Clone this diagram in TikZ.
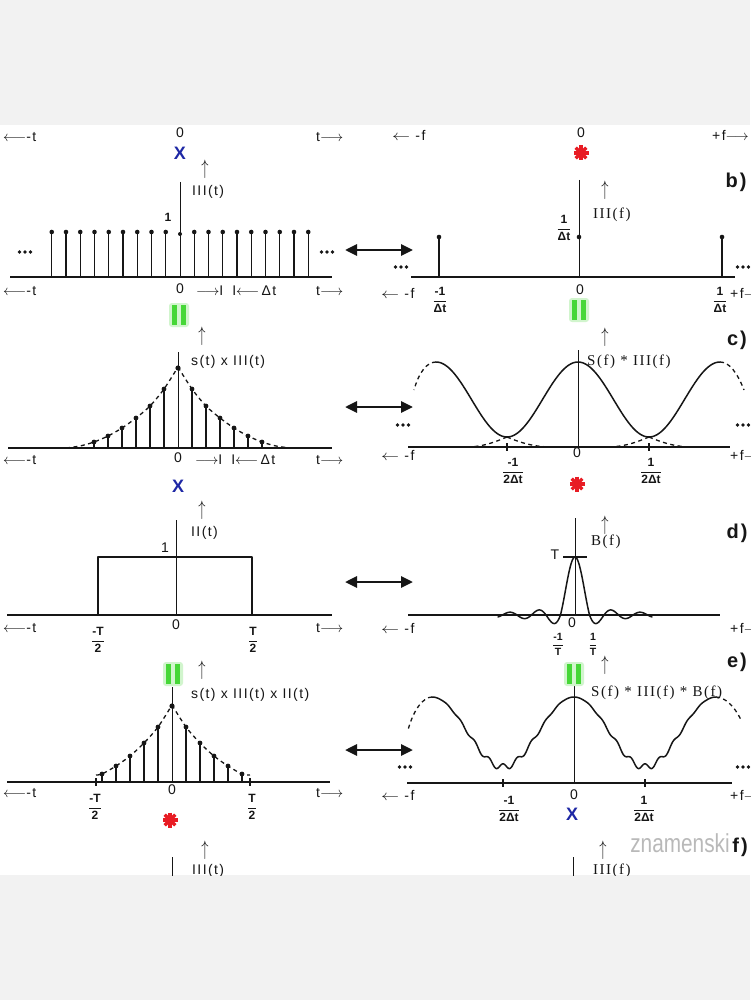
\documentclass[tikz,border=0pt]{standalone}
\usepackage{fontspec}
\setmainfont{Liberation Sans}
\newfontfamily\lab[LetterSpace=10]{Liberation Sans}
\newfontfamily\labser[LetterSpace=10]{Liberation Serif}
\usetikzlibrary{arrows.meta}
\definecolor{bggray}{RGB}{242,242,242}
\definecolor{ink}{RGB}{22,22,22}
\definecolor{xblue}{RGB}{30,40,165}
\definecolor{sred}{RGB}{232,28,36}
\definecolor{eqgreen}{RGB}{70,215,55}
\definecolor{wmark}{RGB}{185,185,185}
\newcommand\fr[2]{$\displaystyle\frac{\mbox{#1}}{\mbox{#2}}$}
\newcommand\upglyph{\scalebox{1}[1.45]{$\uparrow$}}
\newcommand\myla{$\longleftarrow$}
\newcommand\myra{$\longrightarrow$}
\newcommand\mysla{\scalebox{1.25}[1]{$\leftarrow$}}
\newcommand\mkstar[2]{\begin{scope}[shift={(#1,#2)}]\foreach \a in {0,45,90,135}{\draw[sred,line width=3.2pt] (\a:7.5pt) -- (\a+180:7.5pt);}\end{scope}}
\newcommand\mkeq[2]{\begin{scope}[shift={(#1,#2)}]\fill[eqgreen!25,rounded corners=3pt] (-10,-12) rectangle (10,12);\fill[eqgreen] (-7,-10) rectangle (-2,10);\fill[eqgreen] (2,-10) rectangle (7,10);\end{scope}}
\newcommand\mkdots[2]{\foreach \d in {-5.5,0,5.5}{\fill[ink] (#1+\d,#2) circle[radius=1.9pt];}}
\tikzset{
 axis/.style={draw=ink, line width=1.4pt},
 stem/.style={draw=ink, line width=1.1pt},
 vline/.style={draw=ink, line width=1pt},
 curve/.style={draw=ink, line width=1.5pt, line join=round, line cap=round},
 dcurve/.style={draw=ink, line width=1.3pt, dash pattern=on 4pt off 3.5pt},
 lbl/.style={inner sep=0pt, text=ink, font=\fontsize{14}{16}\selectfont\lab},
 slbl/.style={inner sep=0pt, text=ink, font=\fontsize{15}{17}\selectfont\labser},
 frc/.style={inner sep=0pt, text=ink, font=\fontsize{12}{14}\selectfont\bfseries},
 sfrc/.style={inner sep=0pt, text=ink, font=\fontsize{10.5}{12}\selectfont\bfseries},
 plbl/.style={inner sep=0pt, text=ink, font=\fontsize{20}{22}\selectfont\lab\bfseries},
 bx/.style={inner sep=0pt, text=xblue, font=\fontsize{18}{18}\selectfont\bfseries},
 upa/.style={inner sep=0pt, text=ink, font=\fontsize{14}{14}\selectfont},
 dbl/.style={draw=ink, line width=2.8pt, {Triangle[length=12pt,width=11pt]}-{Triangle[length=12pt,width=11pt]}},
}
\begin{document}
\begin{tikzpicture}[x=1pt,y=-1pt]
\useasboundingbox (0,0) rectangle (750,1000);
\fill[bggray] (0,0) rectangle (750,1000);
\fill[white] (0,125) rectangle (750,875);
\begin{scope}
\clip (0,125) rectangle (750,875);

% ---------- top labels ----------
\node[lbl,anchor=west] (tA1) at (3,137) {\myla-t};
\node[lbl] (tA0) at (180,133) {0};
\node[lbl,anchor=west] (tA2) at (316,137) {t\myra};
\node[lbl,anchor=west] (tB1) at (392,135) {\mysla\ -f};
\node[lbl] (tB0) at (581,133) {0};
\node[lbl,anchor=west] (tB2) at (712,135) {+f\myra};
\node[bx] (xA) at (180,153) {X};
\mkstar{581}{153}

% ---------- panel b left: III(t) ----------
\draw[axis] (10,277) -- (332,277);
\draw[vline] (180,182) -- (180,277);
\foreach \k in {-9,...,-1,1,2,...,9}{
  \draw[stem] (180+14.25*\k,277) -- (180+14.25*\k,232);
  \fill[ink] (180+14.25*\k,232) circle[radius=2.3pt];
}
\fill[ink] (180,234) circle[radius=2pt];
\node[upa] (aup) at (205,169) {\upglyph};
\node[lbl,anchor=west] (alab) at (192,192) {III(t)};
\node[frc] (a1) at (168,217) {1};
\mkdots{25}{252}
\mkdots{327}{252}
\node[lbl,anchor=west] (bA1) at (3,291) {\myla-t};
\node[lbl] (bA0) at (180,289) {0};
\node[lbl,anchor=west] (bAd) at (196,291) {\myra I\hspace{9pt}I\myla\,Δt};
\node[lbl,anchor=west] (bA2) at (316,291) {t\myra};

% ---------- panel b right: III(f) ----------
\draw[axis] (411,277) -- (735,277);
\draw[vline] (579,180) -- (579,277);
\draw[stem] (439,277) -- (439,237);
\draw[stem] (722,277) -- (722,237);
\fill[ink] (439,237) circle[radius=2.3pt];
\fill[ink] (722,237) circle[radius=2.3pt];
\fill[ink] (579,237) circle[radius=2.3pt];
\node[frc] (bf1) at (564,228) {\fr{1}{Δt}};
\node[upa] (bup) at (605,190) {\upglyph};
\node[slbl,anchor=west] (blab) at (593,215) {III(f)};
\node[plbl] (pb) at (736,182) {b)};
\mkdots{401}{267}
\mkdots{743}{267}
\node[lbl,anchor=west] (bB1) at (381,293) {\mysla\ -f};
\node[frc] (bB3) at (440,300) {\fr{-1}{Δt}};
\node[lbl] (bB0) at (580,290) {0};
\node[frc] (bB4) at (720,300) {\fr{1}{Δt}};
\node[lbl,anchor=west] (bB2) at (730,293) {+f\myra};
\coordinate (d1l) at (345,250);
\coordinate (d1r) at (413,250);
\draw[dbl] (d1l) -- (d1r);

% ---------- equals ----------
\mkeq{179}{315}
\mkeq{579}{310}

% ---------- panel c left: s(t) x III(t) ----------
\draw[axis] (8,448) -- (332,448);
\draw[vline] (178,352) -- (178,448);
\foreach \d/\h in {14/59,28/42,42/30,56/20,70/12,84/6}{
  \draw[stem] (178-\d,448) -- (178-\d,448-\h);
  \draw[stem] (178+\d,448) -- (178+\d,448-\h);
  \fill[ink] (178-\d,448-\h) circle[radius=2.4pt];
  \fill[ink] (178+\d,448-\h) circle[radius=2.4pt];
}
\fill[ink] (178,368) circle[radius=2.6pt];
\draw[dcurve] plot[smooth] coordinates {(66,448) (80,446) (94,442) (108,436) (122,428) (136,418) (150,406) (164,389) (178,367)};
\draw[dcurve] plot[smooth] coordinates {(178,367) (192,389) (206,406) (220,418) (234,428) (248,436) (262,442) (276,446) (290,448)};
\node[upa] (cup) at (202,336) {\upglyph};
\node[lbl,anchor=west] (clab) at (191,362) {s(t) x III(t)};
\node[lbl,anchor=west] (cA1) at (3,460) {\myla-t};
\node[lbl] (cA0) at (178,458) {0};
\node[lbl,anchor=west] (cAd) at (195,460) {\myra I\hspace{9pt}I\myla\,Δt};
\node[lbl,anchor=west] (cA2) at (316,460) {t\myra};
\node[bx] (xC) at (178,486) {X};

% ---------- panel c right: S(f)*III(f) ----------
\draw[axis] (408,447) -- (730,447);
\draw[vline] (578,350) -- (578,447);
\draw[curve] plot[domain=436:720,samples=150] (\x,{447-47.5-37.5*cos((\x-578)*2.53521)});
\draw[dcurve] (436,362) .. controls (427,362) and (419,372) .. (414,390);
\draw[dcurve] (720,362) .. controls (729,362) and (737,372) .. (744,390);
\draw[dcurve] (507,437) .. controls (495,442) and (485,446) .. (470,447);
\draw[dcurve] (507,437) .. controls (519,442) and (530,446) .. (548,447);
\draw[dcurve] (649,437) .. controls (637,442) and (627,446) .. (610,447);
\draw[dcurve] (649,437) .. controls (661,442) and (672,446) .. (688,447);
\draw[stem] (507,443) -- (507,451);
\draw[stem] (649,443) -- (649,451);
\node[upa] (cfup) at (605,337) {\upglyph};
\node[slbl,anchor=west] (cflab) at (587,362) {S(f) * III(f)};
\node[plbl] (pc) at (737,340) {c)};
\mkdots{403}{425}
\mkdots{743}{425}
\node[lbl,anchor=west] (cB1) at (381,455) {\mysla\ -f};
\node[lbl] (cB0) at (577,453) {0};
\node[frc] (cB3) at (513,471) {\fr{-1}{2Δt}};
\node[frc] (cB4) at (651,471) {\fr{1}{2Δt}};
\node[lbl,anchor=west] (cB2) at (730,455) {+f\myra};
\mkstar{577}{484}
\coordinate (d2l) at (345,407);
\coordinate (d2r) at (413,407);
\draw[dbl] (d2l) -- (d2r);

% ---------- panel d left: II(t) ----------
\draw[axis] (7,615) -- (332,615);
\draw[vline] (176,520) -- (176,615);
\draw[curve,line cap=butt] (98,615) -- (98,557) -- (252,557) -- (252,615);
\node[lbl] (d1) at (165,548) {1};
\node[upa] (dup) at (202,510) {\upglyph};
\node[lbl,anchor=west] (dlab) at (191,533) {II(t)};
\node[lbl,anchor=west] (dA1) at (3,628) {\myla-t};
\node[frc] (dA3) at (98,640) {\fr{-T}{2}};
\node[lbl] (dA0) at (176,625) {0};
\node[frc] (dA4) at (253,640) {\fr{T}{2}};
\node[lbl,anchor=west] (dA2) at (316,628) {t\myra};

% ---------- panel d right: B(f) ----------
\draw[axis] (408,615) -- (720,615);
\draw[vline] (575,518) -- (575,615);
\draw[curve] plot[domain=-77:77,samples=160] ({575+\x},{615-58*sin(12.4*\x)/(0.21642*\x)*(abs(\x)<14.5 ? 1 : 0.68)});
\draw[stem] (563,557) -- (587,557);
\node[lbl] (dT) at (555,555) {T};
\node[upa] (dfup) at (605,525) {\upglyph};
\node[slbl,anchor=west] (dflab) at (591,542) {B(f)};
\node[plbl] (pd) at (737,533) {d)};
\node[lbl,anchor=west] (dB1) at (381,628) {\mysla\ -f};
\node[lbl] (dB0) at (572,623) {0};
\node[sfrc] (dB3) at (558,644) {\fr{-1}{T}};
\node[sfrc] (dB4) at (593,644) {\fr{1}{T}};
\node[lbl,anchor=west] (dB2) at (730,628) {+f\myra};
\coordinate (d3l) at (345,582);
\coordinate (d3r) at (413,582);
\draw[dbl] (d3l) -- (d3r);

% ---------- panel e left ----------
\draw[axis] (7,782) -- (330,782);
\draw[vline] (172,687) -- (172,782);
\foreach \d/\h in {14/55,28/39,42/26,56/16,70/8}{
  \draw[stem] (172-\d,782) -- (172-\d,782-\h);
  \draw[stem] (172+\d,782) -- (172+\d,782-\h);
  \fill[ink] (172-\d,782-\h) circle[radius=2.4pt];
  \fill[ink] (172+\d,782-\h) circle[radius=2.4pt];
}
\fill[ink] (172,706) circle[radius=2.6pt];
\draw[dcurve] plot[smooth] coordinates {(96,775) (102,774) (116,766) (130,756) (144,743) (158,727) (172,705)};
\draw[dcurve] plot[smooth] coordinates {(172,705) (186,727) (200,743) (214,756) (228,766) (242,774) (250,775)};
\draw[stem] (96,778) -- (96,786);
\draw[stem] (250,778) -- (250,786);
\mkeq{173}{674}
\node[upa] (eup) at (202,670) {\upglyph};
\node[lbl,anchor=west] (elab) at (191,695) {s(t) x III(t) x II(t)};
\node[lbl,anchor=west] (eA1) at (3,793) {\myla-t};
\node[frc] (eA3) at (95,807) {\fr{-T}{2}};
\node[lbl] (eA0) at (172,790) {0};
\node[frc] (eA4) at (252,807) {\fr{T}{2}};
\node[lbl,anchor=west] (eA2) at (316,793) {t\myra};
\mkstar{170}{820}

% ---------- panel e right ----------
\draw[axis] (407,783) -- (732,783);
\draw[vline] (574,685) -- (574,783);
\draw[curve] plot[domain=432:716,samples=300] (\x,{783-51-35*cos((\x-574)*2.53521)-1.6*(1-cos((\x-574)*2.53521))*cos((\x-574)*25.3521)});
\draw[dcurve] (432,697) .. controls (424,697) and (414,708) .. (408,730);
\draw[dcurve] (716,697) .. controls (724,697) and (734,705) .. (741,720);
\draw[stem] (503,779) -- (503,787);
\draw[stem] (645,779) -- (645,787);
\mkeq{574}{674}
\node[upa] (efup) at (605,665) {\upglyph};
\node[slbl,anchor=west] (eflab) at (591,693) {S(f) * III(f) * B(f)};
\node[plbl] (pe) at (737,662) {e)};
\mkdots{405}{767}
\mkdots{743}{767}
\node[lbl,anchor=west] (eB1) at (381,795) {\mysla\ -f};
\node[lbl] (eB0) at (574,795) {0};
\node[frc] (eB3) at (509,809) {\fr{-1}{2Δt}};
\node[frc] (eB4) at (644,809) {\fr{1}{2Δt}};
\node[lbl,anchor=west] (eB2) at (730,795) {+f\myra};
\node[bx] (xE) at (572,814) {X};
\coordinate (d4l) at (345,750);
\coordinate (d4r) at (413,750);
\draw[dbl] (d4l) -- (d4r);

% ---------- panel f (cut) ----------
\draw[vline] (172,857) -- (172,880);
\node[upa] (fup) at (205,850) {\upglyph};
\node[lbl,anchor=west] (flab) at (192,871) {III(t)};
\draw[vline] (573,857) -- (573,880);
\node[upa] (ffup) at (603,850) {\upglyph};
\node[slbl,anchor=west] (fflab) at (593,871) {III(f)};
\node[plbl] (pf) at (740,847) {f)};
\node[inner sep=0pt, text=wmark, font=\fontsize{26}{26}\selectfont] (wm) at (680,843) {\scalebox{0.8}[1]{znamenski}};
\end{scope}
\end{tikzpicture}
\end{document}
